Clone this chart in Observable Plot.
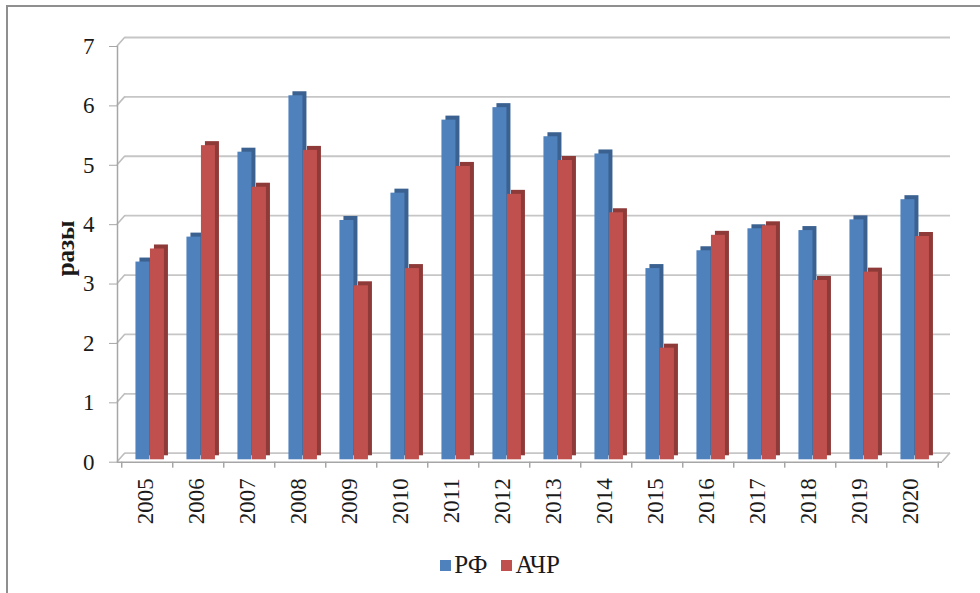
<!DOCTYPE html>
<html><head><meta charset="utf-8">
<script src="https://cdn.jsdelivr.net/npm/d3@7"></script>
<script src="https://cdn.jsdelivr.net/npm/@observablehq/plot@0.6"></script>
<style>
body{margin:0;background:#fff;}
#wrap{position:relative;width:980px;height:593px;overflow:hidden;font-family:"Liberation Serif","Times New Roman",serif;background:#fff;}
#border{position:absolute;left:6px;top:5px;width:1000px;height:700px;border-left:2px solid #8f8f8f;border-top:2px solid #8f8f8f;}
#chart{position:absolute;left:0;top:0;}
#legend{position:absolute;top:550px;left:0;width:980px;padding-left:20px;box-sizing:border-box;text-align:center;font-size:25px;color:#1a1a1a;line-height:30px;}
#legend span.sw{display:inline-block;width:11px;height:11px;margin-right:3px;vertical-align:2px;}
#legend span.it{margin:0 7px;}
</style></head>
<body>
<div id="wrap"><div id="chart"></div><div id="border"></div><div id="legend"></div></div>
<script>
const years = ["2005","2006","2007","2008","2009","2010","2011","2012","2013","2014","2015","2016","2017","2018","2019","2020"];
const rf   = [3.33, 3.75, 5.18, 6.13, 4.03, 4.49, 5.72, 5.93, 5.44, 5.15, 3.22, 3.52, 3.89, 3.86, 4.04, 4.38];
const achr = [3.55, 5.29, 4.59, 5.21, 2.93, 3.22, 4.94, 4.47, 5.04, 4.16, 1.88, 3.78, 3.94, 3.02, 3.16, 3.76];
const seriesNames = ["РФ", "АЧР"];
const yTicks = [0, 1, 2, 3, 4, 5, 6, 7];
const yTitle = "разы";

const colors = ["#4f81bd", "#c0504d"];
const sideColors = ["#3a6190", "#8e3a38"];
const rows = years.map((y, i) => ({year: y, rf: rf[i], achr: achr[i]}));

const W = 980, H = 540, mL = 117, mR = 38, mT = 46, mB = 540 - 461.7;
const step = (W - mL - mR) / years.length;
const depthX = 8, depthY = -9;

// diagonal edges of the 3D back wall
const wallEdges = (index, scales) => {
  const y = scales.y;
  const g = d3.create("svg:g").attr("stroke", "#bdbdbd").attr("stroke-width", 1.6).attr("fill", "none");
  for (const t of yTicks) {
    g.append("line").attr("x1", mL).attr("y1", y(t)).attr("x2", mL + depthX).attr("y2", y(t) + depthY);
  }
  g.append("line").attr("x1", W - mR).attr("y1", y(0)).attr("x2", W - mR + depthX).attr("y2", y(0) + depthY);
  return g.node();
};

const barMarks = [];
const keys = ["rf", "achr"];
const offs = [-4.56, 9.94];
keys.forEach((k, s) => {
  barMarks.push(Plot.barY(rows, {x: "year", y: k, fill: sideColors[s], dx: offs[s] + 4, dy: -2.4 - 4}));
  barMarks.push(Plot.barY(rows, {x: "year", y: k, fill: colors[s], dx: offs[s], dy: -2.4}));
});

const chart = Plot.plot({
  width: W, height: H,
  marginLeft: mL, marginRight: mR, marginTop: mT, marginBottom: mB,
  x: {domain: years, paddingInner: 0.72, paddingOuter: 0.36, axis: null},
  y: {domain: [0, 7], axis: null},
  style: {fontFamily: "'Liberation Serif', 'Times New Roman', serif", background: "white", color: "#1a1a1a"},
  marks: [
    Plot.ruleY(yTicks, {y: d => d, dx: depthX, dy: depthY, stroke: "#c6c6c6", strokeWidth: 1.8}),
    wallEdges,
    Plot.frame({anchor: "left", stroke: "#a6a6a6", strokeWidth: 1.5}),
    Plot.ruleY([0], {stroke: "#a6a6a6", strokeWidth: 1.5}),
    Plot.ruleX(years, {x: d => d, y1: 0, y2: 0, dx: -step / 2, dy: 3, insetTop: -3, insetBottom: -3, stroke: "#a6a6a6", strokeWidth: 1.5}),
    Plot.ruleX([years[years.length - 1]], {x: d => d, y1: 0, y2: 0, dx: step / 2, dy: 3, insetTop: -3, insetBottom: -3, stroke: "#a6a6a6", strokeWidth: 1.5}),
    Plot.axisY({ticks: yTicks, tickSize: 8, tickPadding: 15, fontSize: 23, stroke: "#a6a6a6", fill: "#1a1a1a", label: null, tickFormat: d => String(d)}),
    Plot.text(years, {x: d => d, y: 0, rotate: -90, textAnchor: "end", dy: 16, dx: -2, fontSize: 23, fill: "#1a1a1a"}),
    ...barMarks,
    Plot.text([yTitle], {frameAnchor: "left", dx: -52, dy: 22, rotate: -90, fontSize: 25, fontWeight: "bold", fill: "#1a1a1a"})
  ]
});
document.getElementById("chart").appendChild(chart);

const leg = document.getElementById("legend");
seriesNames.forEach((n, i) => {
  const it = document.createElement("span");
  it.className = "it";
  const sw = document.createElement("span");
  sw.className = "sw";
  sw.style.background = colors[i];
  it.appendChild(sw);
  it.appendChild(document.createTextNode(n));
  leg.appendChild(it);
});
</script>
</body></html>
